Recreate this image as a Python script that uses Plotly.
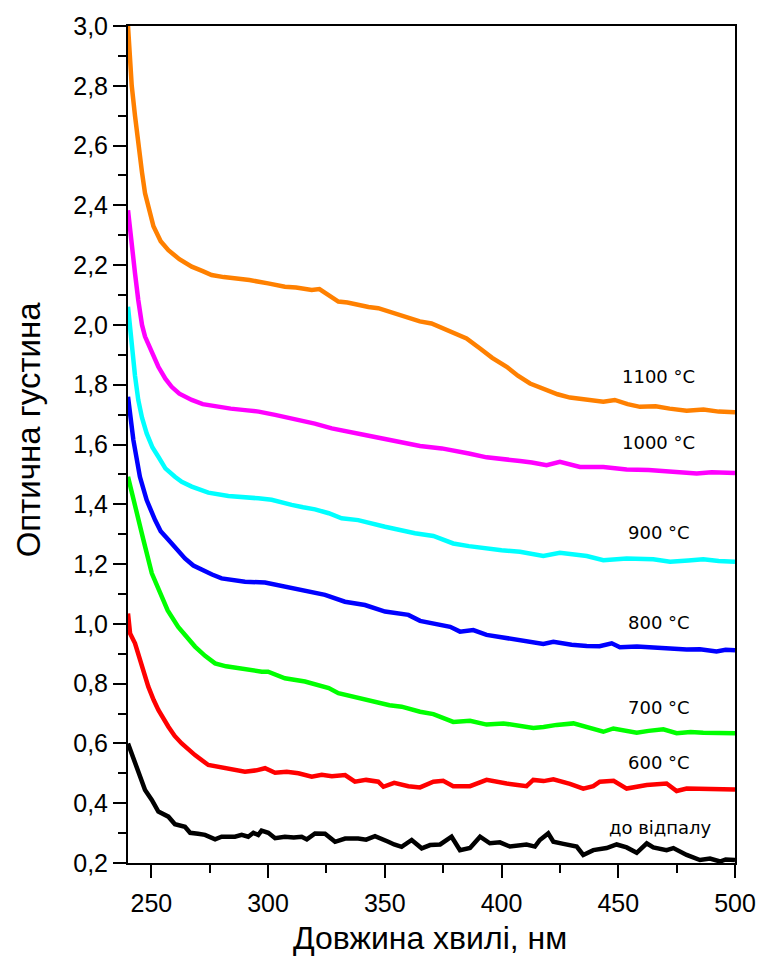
import plotly.graph_objects as go

# Optical density spectra of samples annealed at different temperatures
wl_1100 = [240, 241.6, 243, 244.4, 246, 247.3, 249, 250.9, 254, 257.3, 262, 267.3, 272, 275.8, 281, 285.8,
           292, 300, 307.2, 312, 318.7, 322, 326, 330.1, 334, 338.6, 343, 347.2, 352, 358.6, 365, 370,
           374.4, 379.3, 385, 390.8, 396, 402.2, 407, 412.2, 419.3, 424, 429.3, 436, 443.6, 448.5, 454,
           459.3, 466, 472, 479.3, 486.5, 493, 500]
od_1100 = [3.00, 2.80, 2.70, 2.60, 2.51, 2.44, 2.38, 2.33, 2.28, 2.25, 2.22, 2.195, 2.18, 2.167, 2.16, 2.156,
           2.15, 2.139, 2.128, 2.125, 2.117, 2.12, 2.10, 2.078, 2.075, 2.067, 2.06, 2.056, 2.045, 2.028, 2.012, 2.005,
           1.99, 1.977, 1.955, 1.921, 1.89, 1.860, 1.83, 1.804, 1.780, 1.768, 1.757, 1.75, 1.743, 1.749, 1.735,
           1.726, 1.728, 1.72, 1.713, 1.717, 1.71, 1.708]

wl_1000 = [240, 241.5, 243, 244.4, 246, 247.3, 248.7, 251, 253, 256, 258.7, 262, 267.3, 272, 278.7, 284,
           290.1, 296, 303, 308, 314.4, 320, 327.3, 334, 341.5, 349, 357.2, 365.1, 374.4, 379.3, 386, 393.6,
           400, 407.9, 413, 419.3, 425, 433.6, 443.6, 453.6, 463, 473.6, 483.6, 490, 500]
od_1000 = [2.384, 2.26, 2.173, 2.083, 2.00, 1.961, 1.938, 1.90, 1.860, 1.82, 1.793, 1.77, 1.749, 1.735, 1.726, 1.72,
           1.715, 1.71, 1.699, 1.69, 1.682, 1.67, 1.654, 1.645, 1.632, 1.62, 1.609, 1.595, 1.587, 1.581, 1.57, 1.557,
           1.55, 1.545, 1.54, 1.531, 1.542, 1.525, 1.525, 1.516, 1.515, 1.509, 1.503, 1.507, 1.505]

wl_900 = [240, 241.6, 243, 244.4, 246, 248, 250.5, 253, 256, 260.1, 263, 267.3, 270, 274.4, 283, 290,
          295.8, 301.5, 306, 310.1, 315, 320.1, 326, 331.5, 338.6, 344, 350.1, 356, 362.9, 370.8, 379.3, 386,
          393.6, 400, 407.9, 412, 417.9, 425, 430, 436.5, 443.6, 453.6, 465, 472.2, 480, 486.4, 493, 500]
od_900 = [2.061, 1.916, 1.83, 1.749, 1.69, 1.637, 1.59, 1.559, 1.52, 1.492, 1.475, 1.459, 1.45, 1.439, 1.428, 1.425,
          1.420, 1.415, 1.405, 1.398, 1.39, 1.383, 1.37, 1.353, 1.347, 1.335, 1.325, 1.315, 1.303, 1.294, 1.269, 1.26,
          1.252, 1.246, 1.241, 1.235, 1.227, 1.238, 1.232, 1.227, 1.213, 1.219, 1.216, 1.208, 1.212, 1.216, 1.21, 1.208]

wl_800 = [240, 242.3, 245.1, 248, 251.6, 254, 257.3, 261, 264.4, 268, 271.6, 276, 280.1, 285, 290.1, 298.7,
          307.2, 315.8, 324.4, 332.9, 341.5, 350.1, 355, 360.1, 365.1, 373.6, 378, 382.2, 387.9, 393.6, 400, 407.9,
          412, 417.9, 422.2, 430, 436.5, 442, 447.2, 450.7, 458, 465, 472, 479.3, 485, 492.1, 496, 500]
od_800 = [1.760, 1.615, 1.492, 1.414, 1.347, 1.31, 1.281, 1.25, 1.219, 1.195, 1.180, 1.165, 1.152, 1.145, 1.141, 1.138,
          1.124, 1.113, 1.097, 1.074, 1.063, 1.041, 1.035, 1.030, 1.010, 0.999, 0.99, 0.974, 0.979, 0.963, 0.955, 0.946,
          0.942, 0.933, 0.940, 0.93, 0.926, 0.925, 0.935, 0.922, 0.924, 0.920, 0.918, 0.914, 0.915, 0.908, 0.913, 0.912]

wl_700 = [240, 243, 246.6, 250.2, 254.4, 257, 261.5, 265, 268.7, 273, 277.3, 282, 287.2, 292, 297.3, 300,
          303, 307.2, 315.8, 321.5, 326, 330.1, 338.6, 347.2, 352, 357.2, 362, 365.1, 370.8, 374.4, 379.3, 386.5,
          393.6, 400.8, 407, 413.6, 418, 423.6, 430.8, 437, 443.6, 447.9, 452, 457.9, 463, 469.3, 475, 481,
          486.4, 493, 500]
od_700 = [1.492, 1.392, 1.281, 1.169, 1.091, 1.045, 0.990, 0.955, 0.924, 0.893, 0.868, 0.858, 0.851, 0.845, 0.840, 0.840,
          0.83, 0.818, 0.807, 0.795, 0.785, 0.768, 0.751, 0.734, 0.728, 0.723, 0.712, 0.706, 0.698, 0.688, 0.672, 0.676,
          0.663, 0.667, 0.660, 0.652, 0.655, 0.662, 0.667, 0.655, 0.639, 0.650, 0.645, 0.636, 0.642, 0.647, 0.634, 0.638,
          0.636, 0.634, 0.634]

wl_600 = [240, 240.9, 243, 245.9, 248.7, 251, 253, 257.3, 260, 263, 268.7, 274.4, 281.5, 290.1, 295, 298.7,
          303, 308, 313, 318.7, 323, 327.3, 333, 337.2, 342, 347.2, 349.4, 354, 360.1, 365.1, 370.8, 375,
          379.3, 386.5, 393.6, 398, 402.2, 406, 410.7, 413.6, 418, 422.2, 429.3, 435, 439.3, 442.1, 448, 453.6,
          458, 462.2, 470.7, 475, 479.3, 485, 490.7, 495, 500]
od_600 = [1.035, 0.968, 0.935, 0.857, 0.790, 0.745, 0.712, 0.656, 0.625, 0.600, 0.561, 0.528, 0.517, 0.505, 0.51, 0.517,
          0.502, 0.505, 0.500, 0.489, 0.495, 0.490, 0.494, 0.472, 0.478, 0.472, 0.455, 0.468, 0.457, 0.453, 0.472, 0.475,
          0.457, 0.457, 0.478, 0.47, 0.466, 0.462, 0.457, 0.478, 0.474, 0.480, 0.465, 0.449, 0.457, 0.472, 0.475, 0.449,
          0.455, 0.461, 0.466, 0.441, 0.449, 0.448, 0.449, 0.445, 0.446]

wl_raw = [240, 241.6, 244.4, 247.3, 250.2, 253, 257.3, 260.1, 264.4, 266.6, 270, 273, 277.3, 280.1, 285.8, 288.7,
          291.5, 293.7, 295.8, 297.2, 300.1, 303, 307.2, 311, 314.4, 316.6, 320.1, 324.4, 328.7, 333, 338.6, 342,
          345.8, 348, 351.5, 354, 357.2, 361.5, 365.8, 369.4, 373.7, 378.6, 382.2, 386.5, 390.8, 395, 399.3, 403.6,
          407.9, 410.7, 414.3, 416.4, 420, 422.2, 426.5, 432.2, 435, 439.3, 445, 449.3, 453.6, 457.9, 462.2, 465,
          470.7, 473.6, 479.3, 485, 489.3, 493.6, 496, 500]
od_raw = [0.600, 0.567, 0.511, 0.444, 0.411, 0.372, 0.355, 0.330, 0.321, 0.301, 0.298, 0.294, 0.279, 0.288, 0.288, 0.294,
          0.288, 0.301, 0.294, 0.308, 0.301, 0.283, 0.288, 0.285, 0.288, 0.279, 0.299, 0.298, 0.271, 0.282, 0.282, 0.278,
          0.290, 0.284, 0.271, 0.262, 0.254, 0.277, 0.249, 0.260, 0.262, 0.288, 0.243, 0.250, 0.288, 0.266, 0.269, 0.255,
          0.257, 0.262, 0.255, 0.277, 0.299, 0.271, 0.264, 0.255, 0.227, 0.243, 0.250, 0.262, 0.252, 0.234, 0.266, 0.252,
          0.243, 0.250, 0.227, 0.210, 0.215, 0.205, 0.212, 0.210]

series_labels = ["до відпалу", "600 °C", "700 °C", "800 °C", "900 °C", "1000 °C", "1100 °C"]
series_colors = ["#000000", "#FF0000", "#00FF00", "#0000FF", "#00FFFF", "#FF00FF", "#FF8000"]
series_x = [wl_raw, wl_600, wl_700, wl_800, wl_900, wl_1000, wl_1100]
series_y = [od_raw, od_600, od_700, od_800, od_900, od_1000, od_1100]
# label anchor positions (wavelength, optical density)
label_x = [467.9, 467.4, 467.4, 467.4, 467.4, 467.4, 467.4]
label_y = [0.320, 0.535, 0.719, 1.006, 1.304, 1.608, 1.826]

fig = go.Figure()
for xs, ys, col, name in zip(series_x, series_y, series_colors, series_labels):
    fig.add_trace(go.Scatter(x=xs, y=ys, mode="lines", name=name,
                             line=dict(color=col, width=4.5), showlegend=False))

for lx, ly, txt in zip(label_x, label_y, series_labels):
    fig.add_annotation(x=lx, y=ly, text=txt, showarrow=False,
                       font=dict(family="DejaVu Sans", size=18, color="black"),
                       xanchor="center", yanchor="middle")

# axis titles
fig.add_annotation(xref="paper", yref="paper", x=0.4975, y=-0.0896, text="Довжина хвилі, нм",
                   showarrow=False, font=dict(family="Liberation Sans", size=32, color="black"),
                   xanchor="center", yanchor="middle")
fig.add_annotation(xref="paper", yref="paper", x=-0.1647, y=0.517, text="Оптична густина",
                   showarrow=False, textangle=-90, font=dict(family="Liberation Sans", size=33, color="black"),
                   xanchor="center", yanchor="middle")

axis_common = dict(showline=True, linecolor="black", linewidth=2, mirror=True,
                   ticks="outside", ticklen=13, tickwidth=2, tickcolor="black",
                   showgrid=False, zeroline=False, automargin=False,
                   tickfont=dict(family="Liberation Sans", size=25, color="black"))

fig.update_xaxes(range=[240, 500], tick0=250, dtick=50, ticklabelstandoff=4,
                 minor=dict(ticks="outside", ticklen=8, tickwidth=2, tickcolor="black",
                            tick0=250, dtick=25, showgrid=False),
                 **axis_common)
fig.update_yaxes(range=[0.2, 3.0], tick0=0.2, dtick=0.2, tickformat=".1f", ticklabelstandoff=0,
                 minor=dict(ticks="outside", ticklen=8, tickwidth=2, tickcolor="black",
                            tick0=0.2, dtick=0.1, showgrid=False),
                 **axis_common)

fig.update_layout(width=760, height=959, margin=dict(l=128, r=25, t=26, b=96, autoexpand=False),
                  plot_bgcolor="white", paper_bgcolor="white", separators=", ")

fig.write_html("out.html")
